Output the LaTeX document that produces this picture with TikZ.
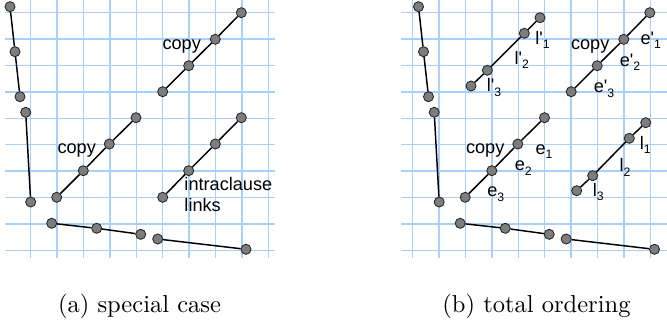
\documentclass[tikz,border=0pt]{standalone}
\usepackage{fontspec}
\newfontfamily\arialfont{Liberation Sans}
\definecolor{gridblue}{RGB}{168,208,250}
\definecolor{dotgray}{RGB}{125,125,125}
\newcommand{\sbs}[1]{\raisebox{-1.8pt}{\fontsize{5}{5}\selectfont #1}}
\newcommand{\prm}{\textquotesingle}

\begin{document}
\begin{tikzpicture}[x=0.408pt, y=-0.408pt,
  gridline/.style={gridblue, line width=0.5pt},
  dot/.style={circle, draw=black!85, fill=dotgray, line width=0.35pt, inner sep=0pt, minimum size=4.1pt},
  link/.style={line width=0.6pt},
  lbl/.style={font=\arialfont\fontsize{7.4}{8.2}\selectfont, inner sep=0pt}]
  \useasboundingbox (0,0) rectangle (667,324);
  % squared paper, left and right
  \foreach \k in {0,...,9} {
    \draw[gridline] (5,12.7+26.4*\k) -- (275,12.7+26.4*\k);
    \draw[gridline] (30.7+26.4*\k,0) -- (30.7+26.4*\k,258);
    \draw[gridline] (401,12.7+26.4*\k) -- (667,12.7+26.4*\k);
    \draw[gridline] (412.7+26.4*\k,0) -- (412.7+26.4*\k,258);
  }
  % parts both panels share
  \foreach \sx/\p in {0/a, 408.5/b} {
    \begin{scope}[shift={(\sx,0)}]
      \node[dot] (\p a1) at (10,6.7) {};
      \node[dot] (\p a2) at (15,51.7) {};
      \node[dot] (\p a3) at (20,96.7) {};
      \node[dot] (\p b1) at (25.7,112.3) {};
      \node[dot] (\p b2) at (30.7,202) {};
      \node[dot] (\p c1) at (51.7,223.3) {};
      \node[dot] (\p c2) at (96.7,228.3) {};
      \node[dot] (\p c3) at (140.7,234.3) {};
      \node[dot] (\p d1) at (157.7,239) {};
      \node[dot] (\p d2) at (246,249.3) {};
      \node[dot] (\p m1) at (56.7,197.3) {};
      \node[dot] (\p m2) at (83.3,170.7) {};
      \node[dot] (\p m3) at (109.3,144) {};
      \node[dot] (\p m4) at (136,117.7) {};
      \node[dot] (\p u1) at (162.7,91.7) {};
      \node[dot] (\p u2) at (188.7,65.7) {};
      \node[dot] (\p u3) at (215.3,39.3) {};
      \node[dot] (\p u4) at (241.3,12.7) {};
      \draw[link] (\p a1) -- (\p a2) -- (\p a3);
      \draw[link] (\p b1) -- (\p b2);
      \draw[link] (\p c1) -- (\p c2) -- (\p c3);
      \draw[link] (\p d1) -- (\p d2);
      \draw[link] (\p m1) -- (\p m2) -- (\p m3) -- (\p m4);
      \draw[link] (\p u1) -- (\p u2) -- (\p u3) -- (\p u4);
      \node[lbl] (\p copym) at (76.7,150) {copy};
      \node[lbl] (\p copyu) at (181.7,46.7) {copy};
    \end{scope}
  }
  % (a) intraclause links
  \node[dot] (r1) at (162.7,197.3) {};
  \node[dot] (r2) at (188.7,170.7) {};
  \node[dot] (r3) at (215.3,144) {};
  \node[dot] (r4) at (241.3,117.7) {};
  \draw[link] (r1) -- (r2) -- (r3) -- (r4);
  \node[lbl, anchor=west, align=left] (intra) at (184,194.5) {intraclause\\links};
  % (b) ordered copies
  \node[dot] (p1) at (471,86) {};
  \node[dot] (p2) at (487.3,70.3) {};
  \node[dot] (p3) at (524.3,33.3) {};
  \node[dot] (p4) at (540,17.7) {};
  \draw[link] (p1) -- (p2) -- (p3) -- (p4);
  \node[dot] (q1) at (576.7,190.7) {};
  \node[dot] (q2) at (592.7,175.7) {};
  \node[dot] (q3) at (629.3,138.3) {};
  \node[dot] (q4) at (645.7,122.7) {};
  \draw[link] (q1) -- (q2) -- (q3) -- (q4);
  \node[lbl] (lp1) at (542.5,40) {l\prm\sbs{1}};
  \node[lbl] (lp2) at (521.7,60) {l\prm\sbs{2}};
  \node[lbl] (lp3) at (494,87.5) {l\prm\sbs{3}};
  \node[lbl] (ep1) at (650.8,40) {e\prm\sbs{1}};
  \node[lbl] (ep2) at (630,62.5) {e\prm\sbs{2}};
  \node[lbl] (ep3) at (604,89) {e\prm\sbs{3}};
  \node[lbl] (e1) at (544,151.7) {e\sbs{1}};
  \node[lbl] (e2) at (523.3,168) {e\sbs{2}};
  \node[lbl] (e3) at (495.7,194) {e\sbs{3}};
  \node[lbl] (l1) at (645.3,145) {l\sbs{1}};
  \node[lbl] (l2) at (625,167.5) {l\sbs{2}};
  \node[lbl] (l3) at (598.3,191.7) {l\sbs{3}};
  % captions
  \node[anchor=base, font=\fontsize{10}{12}\selectfont] (capa) at (139.5,312.5) {(a) special case};
  \node[anchor=base, font=\fontsize{10}{12}\selectfont] (capb) at (536.5,312.5) {(b) total ordering};
\end{tikzpicture}
\end{document}
